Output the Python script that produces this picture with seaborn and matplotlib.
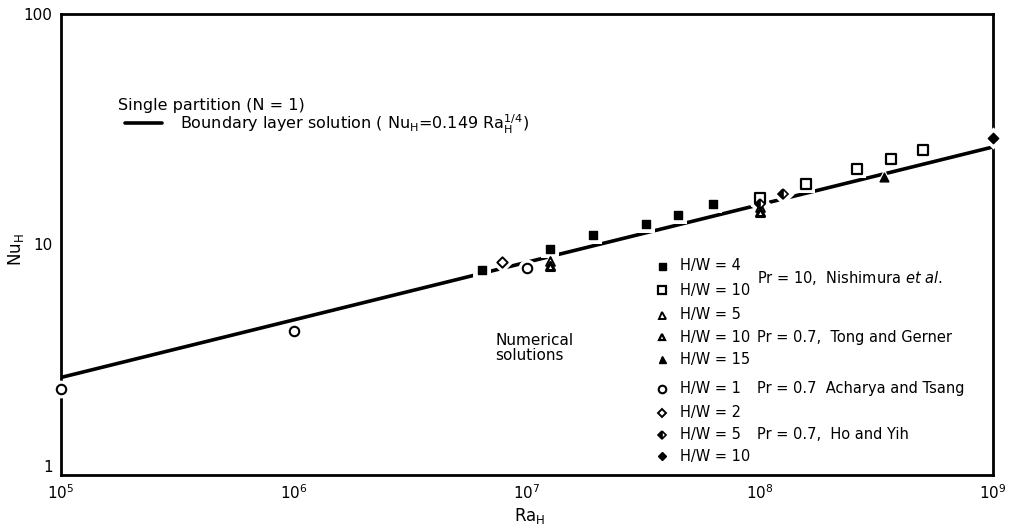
import numpy as np
import pandas as pd
import matplotlib
matplotlib.use("Agg")
import matplotlib.pyplot as plt
import seaborn as sns

# Boundary-layer correlation constants, Nu_H = C * Ra_H^(1/4)
bl_coeff = 0.149
bl_exponent = 0.25
bl_ra_range = [1e5, 1e9]

# Nishimura et al., Pr = 10
nish4_ra = [6.4e6, 1.26e7, 1.92e7, 3.24e7, 4.45e7, 6.3e7]
nish4_nu = [7.75, 9.56, 11.0, 12.3, 13.4, 15.0]
nish10_ra = [1.0e8, 1.57e8, 2.6e8, 3.65e8, 5.0e8]
nish10_nu = [15.9, 18.3, 21.3, 23.5, 25.7]

# Tong and Gerner, Pr = 0.7
tong5_ra = [1.26e7, 1.0e8]
tong5_nu = [8.5, 14.5]
tong10_ra = [1.26e7, 1.0e8]
tong10_nu = [8.05, 13.9]
tong15_ra = [3.4e8]
tong15_nu = [19.6]

# Acharya and Tsang, Pr = 0.7
ach1_ra = [1e5, 1e6, 1e7]
ach1_nu = [2.36, 4.21, 7.9]

# Ho and Yih, Pr = 0.7
ho2_ra = [7.8e6]
ho2_nu = [8.4]
ho5_ra = [1.0e8, 1.26e8]
ho5_nu = [15.0, 16.6]
ho10_ra = [1e9]
ho10_nu = [29.0]

x_ticks = [1e5, 1e6, 1e7, 1e8, 1e9]
x_tick_labels = [r"$10^5$", r"$10^6$", r"$10^7$", r"$10^8$", r"$10^9$"]
y_ticks = [1, 10, 100]
y_tick_labels = ["1", "10", "100"]

sns.set_theme(style="white")
plt.rcParams["font.family"] = ["DejaVu Sans"]
plt.rcParams["mathtext.fontset"] = "dejavusans"
plt.rcParams["text.color"] = "black"
plt.rcParams["axes.labelcolor"] = "black"

fig = plt.figure(figsize=(10.15, 5.30), dpi=100)
ax = fig.add_axes([61 / 1015, 1 - 475 / 530, 932 / 1015, 461 / 530])

# correlation line
bl = pd.DataFrame({"Ra": bl_ra_range})
bl["Nu"] = bl_coeff * bl["Ra"] ** bl_exponent
sns.lineplot(data=bl, x="Ra", y="Nu", color="black", lw=2.6, ax=ax, zorder=2)

# (ra, nu, marker, size_pt, face, edge, edge width, fillstyle)
series = [
    (nish4_ra, nish4_nu, "s", 6.3, "black", "black", 1.0, None),
    (nish10_ra, nish10_nu, "s", 7.6, "white", "black", 1.6, None),
    (tong5_ra, tong5_nu, "^", 6.3, "white", "black", 1.4, None),
    (tong10_ra, tong10_nu, "^", 5.8, "white", "black", 2.2, None),
    (tong15_ra, tong15_nu, "^", 6.3, "black", "black", 1.0, None),
    (ach1_ra, ach1_nu, "o", 6.8, "white", "black", 1.5, None),
    (ho2_ra, ho2_nu, "D", 5.3, "white", "black", 1.4, None),
    (ho5_ra, ho5_nu, "D", 5.3, "black", "black", 1.2, "left"),
    (ho10_ra, ho10_nu, "D", 5.3, "black", "black", 1.0, None),
]

for ra, nu, m, ms, fc, ec, mew, fs in series:
    df = pd.DataFrame({"Ra": ra, "Nu": nu})
    # white halo that breaks the line around each symbol
    sns.scatterplot(data=df, x="Ra", y="Nu", marker=m, s=(ms + 6) ** 2,
                    color="white", edgecolor="white", linewidth=0, ax=ax,
                    zorder=3, clip_on=False)
    if fs is None:
        sns.scatterplot(data=df, x="Ra", y="Nu", marker=m, s=ms ** 2,
                        facecolor=fc, edgecolor=ec, linewidth=mew, ax=ax,
                        zorder=4, clip_on=False)
    else:
        ax.plot(df["Ra"], df["Nu"], linestyle="none", marker=m, ms=ms,
                fillstyle=fs, markerfacecolor=fc, markerfacecoloralt="white",
                markeredgecolor=ec, markeredgewidth=mew, zorder=4, clip_on=False)

ax.set_xscale("log")
ax.set_yscale("log")
ax.set_xlim(1e5, 1e9)
ax.set_ylim(1, 100)
ax.set_xticks(x_ticks)
ax.set_xticklabels(x_tick_labels)
ax.set_yticks(y_ticks)
ax.set_yticklabels(y_tick_labels)
ax.minorticks_off()
ax.tick_params(axis="both", which="major", direction="in", length=16,
               width=1.2, color="black", labelsize=11, labelcolor="black")
ax.tick_params(axis="x", pad=6)
ax.tick_params(axis="y", pad=6)
# lowest y label sits just above the corner so it clears the x labels
ax.get_yticklabels()[0].set_verticalalignment("bottom")
for sp in ax.spines.values():
    sp.set_visible(True)
    sp.set_color("black")
    sp.set_linewidth(2.0)

ax.set_xlabel("")
ax.set_ylabel("")
fig.text(530 / 1015, 1 - 516 / 530, r"Ra$_\mathrm{H}$", fontsize=12,
         ha="center", va="center")
fig.text(16 / 1015, 1 - 250 / 530, r"Nu$_\mathrm{H}$", fontsize=12,
         ha="center", va="center", rotation=90)

T = ax.transAxes
ax.text(0.0612, 0.8026, "Single partition (N = 1)", transform=T,
        fontsize=11.5, va="center", ha="left")
ax.plot([0.0687, 0.1084], [0.7636, 0.7636], transform=T, color="black", lw=2.6)
ax.text(0.1277, 0.7614,
        r"Boundary layer solution ( Nu$_\mathrm{H}$=0.149 Ra$_\mathrm{H}^{1/4}$)",
        transform=T, fontsize=11.5, va="center", ha="left")
ax.text(0.4657, 0.2755, "Numerical\nsolutions", transform=T, fontsize=11,
        va="center", ha="left", linespacing=1.0)

legend_rows = [
    ("H/W = 4", 0.4534, series[0]),
    ("H/W = 10", 0.4013, series[1]),
    ("H/W = 5", 0.3471, series[2]),
    ("H/W = 10", 0.2993, series[3]),
    ("H/W = 15", 0.2516, series[4]),
    ("H/W = 1", 0.1866, series[5]),
    ("H/W = 2", 0.1345, series[6]),
    ("H/W = 5", 0.0868, series[7]),
    ("H/W = 10", 0.0412, series[8]),
]
for label, yy, (_, _, m, ms, fc, ec, mew, fs) in legend_rows:
    ax.plot([0.6449], [yy], transform=T, linestyle="none", marker=m,
            ms=ms * 0.8, fillstyle=fs if fs else "full",
            markerfacecolor=fc, markerfacecoloralt="white",
            markeredgecolor=ec, markeredgewidth=min(mew, 1.6), clip_on=False)
    ax.text(0.6642, yy, label, transform=T, fontsize=10.5, va="center", ha="left")

group_labels = [
    (r"Pr = 10,  Nishimura $\mathit{et\ al.}$", 0.4273),
    ("Pr = 0.7,  Tong and Gerner", 0.2993),
    ("Pr = 0.7  Acharya and Tsang", 0.1866),
    ("Pr = 0.7,  Ho and Yih", 0.0868),
]
for txt, yy in group_labels:
    ax.text(0.7468, yy, txt, transform=T, fontsize=10.5, va="center", ha="left")

fig.savefig("out.png", dpi=100, facecolor="white")
